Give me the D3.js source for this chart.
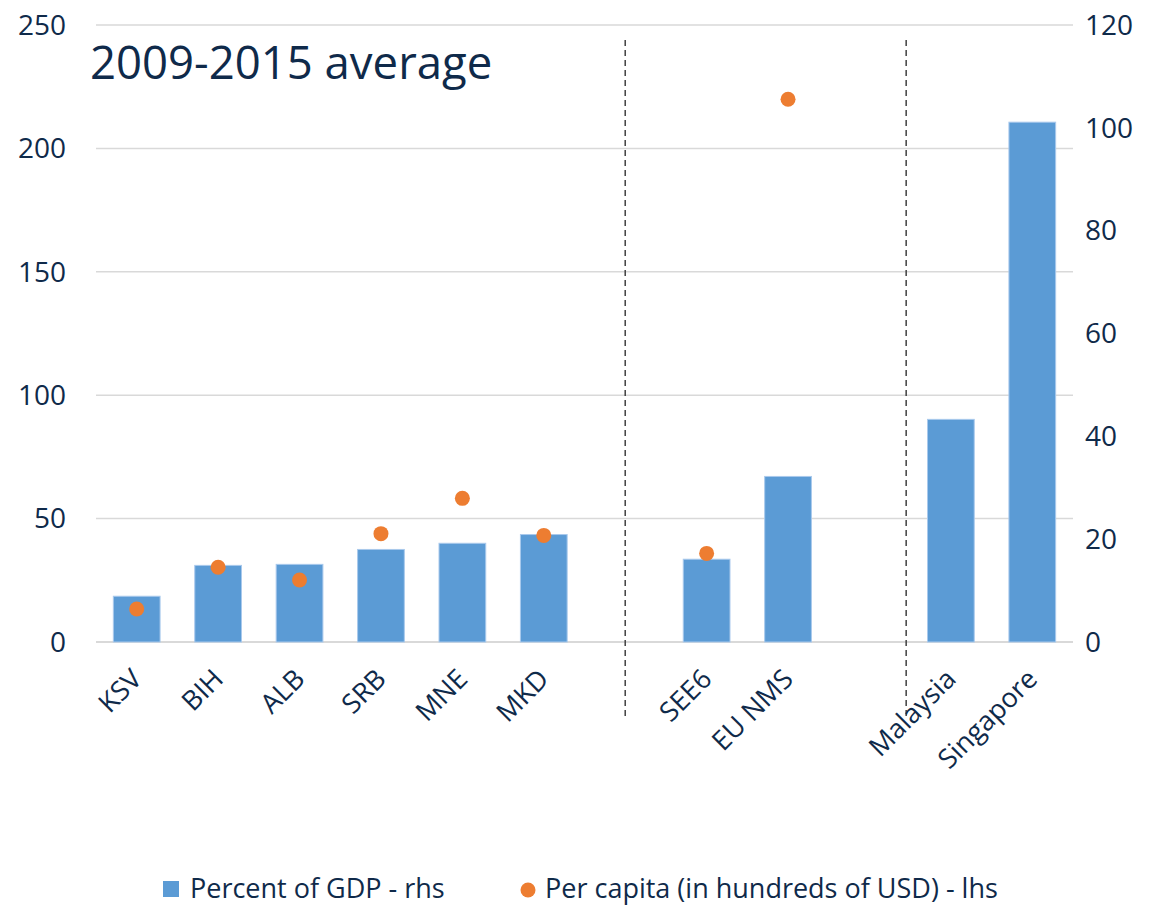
<!DOCTYPE html>
<html>
<head>
<meta charset="utf-8">
<script src="https://cdn.jsdelivr.net/npm/d3@7"></script>
<style>
  body { margin: 0; background: #fff; }
  text { font-family: "Open Sans", "Noto Sans", sans-serif; fill: #0f2a4a; }
</style>
</head>
<body>
<div id="chart"></div>
<script>
// Data (blank slots separate the groups)
const categories = ["KSV", "BIH", "ALB", "SRB", "MNE", "MKD", "", "SEE6", "EU NMS", "", "Malaysia", "Singapore"];
const percentGdp = [8.9, 14.9, 15.1, 18.0, 19.2, 20.9, null, 16.1, 32.2, null, 43.3, 101.1];
const perCapita = [13.4, 30.3, 25.1, 43.9, 58.2, 43.2, null, 35.9, 219.9, null, null, null];
const leftTicks = [0, 50, 100, 150, 200, 250];
const rightTicks = [0, 20, 40, 60, 80, 100, 120];

const width = 1157;
const height = 907;
const margin = { top: 25, right: 84, bottom: 265, left: 96 };

const svg = d3.select('#chart')
    .append('svg').attr('width', width).attr('height', height);

const x = d3.scaleBand()
    .domain(d3.range(categories.length))
    .range([margin.left, width - margin.right])
    .padding(0);
const barW = x.step() * 0.574;

const yLeft = d3.scaleLinear().domain([0, 250]).range([height - margin.bottom, margin.top]);
const yRight = d3.scaleLinear().domain([0, 120]).range([height - margin.bottom, margin.top]);

// gridlines from left axis
svg.append('g')
    .selectAll('line')
    .data(leftTicks)
    .join('line')
    .attr('x1', margin.left)
    .attr('x2', width - margin.right)
    .attr('y1', d => yLeft(d))
    .attr('y2', d => yLeft(d))
    .attr('stroke', '#d9d9d9')
    .attr('stroke-width', d => d === 0 ? 2 : 1.5);

// left axis labels
svg.append('g')
    .selectAll('text')
    .data(leftTicks)
    .join('text')
    .attr('x', 66)
    .attr('y', d => yLeft(d))
    .attr('dy', '0.35em')
    .attr('text-anchor', 'end')
    .attr('font-size', 28)
    .text(d => d);

// right axis labels
svg.append('g')
    .selectAll('text')
    .data(rightTicks)
    .join('text')
    .attr('x', 1085)
    .attr('y', d => yRight(d))
    .attr('dy', '0.35em')
    .attr('font-size', 28)
    .text(d => d);

// dashed separators
const dividers = [x(6) + x.step() / 2, x(10) - 4];
svg.append('g')
    .selectAll('line')
    .data(dividers)
    .join('line')
    .attr('x1', d => d).attr('x2', d => d)
    .attr('y1', 40).attr('y2', 718)
    .attr('stroke', '#404040')
    .attr('stroke-width', 1.5)
    .attr('stroke-dasharray', '6,4');

// bars (rhs)
svg.append('g')
    .selectAll('rect')
    .data(percentGdp.map((v, i) => ({ v, i })).filter(d => d.v != null))
    .join('rect')
    .attr('x', d => x(d.i) + (x.step() - barW) / 2)
    .attr('width', barW)
    .attr('y', d => yRight(d.v))
    .attr('height', d => yRight(0) - yRight(d.v))
    .attr('fill', '#5b9bd5')
    .attr('stroke', '#a9c9ec')
    .attr('stroke-width', 1);

// dots (lhs)
svg.append('g')
    .selectAll('circle')
    .data(perCapita.map((v, i) => ({ v, i })).filter(d => d.v != null))
    .join('circle')
    .attr('cx', d => x(d.i) + x.step() / 2)
    .attr('cy', d => yLeft(d.v))
    .attr('r', 7.5)
    .attr('fill', '#ed7d31');

// category labels
svg.append('g')
    .selectAll('text')
    .data(categories.map((c, i) => ({ c, i })).filter(d => d.c !== ''))
    .join('text')
    .attr('transform', d => `translate(${x(d.i) + x.step() / 2},${674}) rotate(-45)`)
    .attr('text-anchor', 'end')
    .attr('dy', '0.35em')
    .attr('font-size', 27)
    .text(d => d.c);

// title
svg.append('text')
    .attr('x', 90)
    .attr('y', 79)
    .attr('font-size', 45.5)
    .text('2009-2015 average');

// legend
svg.append('rect')
    .attr('x', 163).attr('y', 881)
    .attr('width', 16).attr('height', 16)
    .attr('fill', '#5b9bd5');
svg.append('text')
    .attr('x', 190).attr('y', 898)
    .attr('font-size', 27)
    .text('Percent of GDP - rhs');
svg.append('circle')
    .attr('cx', 528).attr('cy', 890)
    .attr('r', 7.5)
    .attr('fill', '#ed7d31');
svg.append('text')
    .attr('x', 545).attr('y', 898)
    .attr('font-size', 27)
    .text('Per capita (in hundreds of USD) - lhs');
</script>
</body>
</html>
